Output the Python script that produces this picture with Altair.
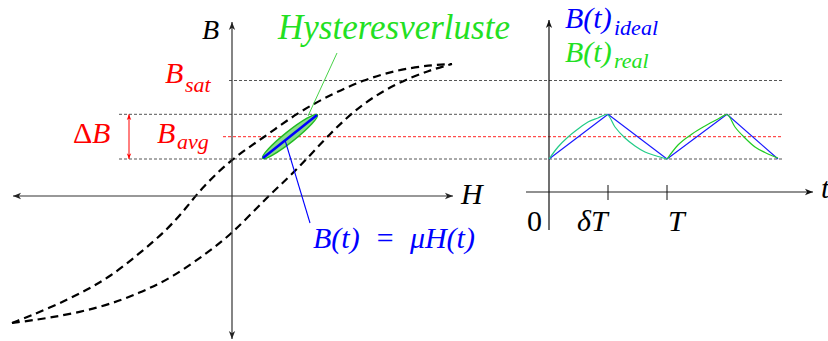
import altair as alt
import pandas as pd

W, H = 828, 341

# ---- hysteresis loop (diagram coordinates: x right, y down, pixels) ----
upper_x = [12, 50, 83, 110, 140, 167, 187, 200, 230, 263, 297, 330, 363, 397, 430, 452]
upper_y = [323, 308, 292, 277, 253, 230, 207, 190, 160, 138, 113, 95, 80, 70, 65, 64]
lower_x = [12, 50, 100, 140, 173, 207, 233, 267, 297, 330, 363, 397, 430, 452]
lower_y = [323, 318, 308, 293, 277, 253, 233, 197, 170, 133, 103, 83, 70, 64]

# ---- B levels (horizontal dashed guides) ----
lvl_y = [80.5, 114.3, 136.7, 159]
lvl_x1 = [229, 119, 223, 119]
lvl_x2 = [783, 783, 783, 783]
lvl_col = ["#555555", "#555555", "#ff2222", "#555555"]

# ---- right panel: ideal (triangle) and real B(t) ----
ideal_t = [549, 608, 667, 727, 778]
ideal_b = [159, 114.3, 159, 114.3, 159]
real1_t = [549, 558, 568, 578, 588, 598, 607, 615, 625, 635, 645, 655, 667]
real1_b = [159, 147, 137, 129, 122, 118, 114.5, 127, 138, 146, 152, 155.5, 159]
real2_t = [667, 678, 692, 705, 718, 727, 735, 745, 755, 765, 778]
real2_b = [159, 145, 134, 126, 119, 114.5, 127, 138, 147, 152.5, 158]

# ---- straight segments (axes, ticks, leaders) ----
seg_x1 = [13, 232, 526, 549, 608, 667, 337, 285, 129, 263]
seg_y1 = [196, 339, 192, 230, 185, 185, 53, 140, 114.3, 158]
seg_x2 = [453, 232, 813, 549, 608, 667, 308, 310, 129, 317]
seg_y2 = [196, 22, 192, 20, 200, 200, 116, 223, 159, 115]
seg_col = ["#333333", "#333333", "#222222", "#111111", "#111111", "#111111",
           "#33cc33", "#0000ff", "#ff0000", "#0000ff"]
seg_w = [1.2, 1.2, 1.2, 1.2, 1.0, 1.0, 0.9, 1.1, 1.0, 2.6]

# ---- arrow heads ----
arr_x = [13, 453, 232, 232, 813, 549, 129, 129]
arr_y = [196, 196, 22, 339, 192, 20, 114.3, 159]
arr_ang = [270, 90, 0, 180, 90, 0, 0, 180]
arr_col = ["#222222", "#222222", "#222222", "#222222", "#111111", "#111111", "#ff0000", "#ff0000"]
arr_size = [80, 80, 80, 80, 80, 80, 40, 40]

# ---- text labels (italic, math style) ----
lab_text = ["B", "Hysteresverluste", "B", "sat", "B", "B", "avg", "H",
            "B(t)\u2002=\u2002μH(t)", "B(t)", "ideal", "B(t)", "real", "t", "δT", "T"]
lab_x = [202, 278, 165, 185, 92, 157, 177, 461, 313, 565, 614, 565, 614, 821, 577, 668]
lab_y = [39, 39, 83, 92, 143, 143, 149, 204, 248, 28, 35, 62, 68, 198, 231, 231]
lab_size = [28, 35, 30, 22, 30, 30, 22, 30, 30, 30, 22, 30, 22, 30, 30, 30]
lab_col = ["#000000", "#22e022", "#ff0000", "#ff0000", "#ff0000", "#ff0000", "#ff0000",
           "#000000", "#0000ff", "#0000ff", "#0000ff", "#22e022", "#22e022", "#000000",
           "#000000", "#000000"]
# upright symbols
up_text = ["0", "Δ"]
up_x = [527, 73]
up_y = [231, 143]
up_col = ["#000000", "#ff0000"]

xs = alt.Scale(domain=[0, W])
ys = alt.Scale(domain=[H, 0])
X = lambda f="x": alt.X(f, type="quantitative", scale=xs, axis=None)
Y = lambda f="y": alt.Y(f, type="quantitative", scale=ys, axis=None)

levels = pd.DataFrame({"x": lvl_x1, "x2": lvl_x2, "y": lvl_y, "c": lvl_col})
lvl_layer = alt.Chart(levels).mark_rule(strokeDash=[3, 2], strokeWidth=1).encode(
    x=X(), x2="x2", y=Y(), color=alt.Color("c:N", scale=None))

loop = pd.DataFrame({
    "x": upper_x + lower_x, "y": upper_y + lower_y,
    "branch": ["up"] * len(upper_x) + ["low"] * len(lower_x),
    "i": list(range(len(upper_x))) + list(range(len(lower_x))),
})
loop_layer = alt.Chart(loop).mark_line(
    color="black", strokeWidth=2.2, strokeDash=[8, 5], interpolate="basis"
).encode(x=X(), y=Y(), detail="branch:N", order="i:Q")

segs = pd.DataFrame({"x": seg_x1, "y": seg_y1, "x2": seg_x2, "y2": seg_y2,
                     "c": seg_col, "w": seg_w})
seg_layer = alt.Chart(segs).mark_rule().encode(
    x=X(), y=Y(), x2="x2", y2="y2",
    color=alt.Color("c:N", scale=None), strokeWidth=alt.StrokeWidth("w:Q", scale=None))

ell = pd.DataFrame({"x": [290], "y": [136.5], "a": [321.5]})
ell_layer = alt.Chart(ell).mark_point(
    shape="M -1 0 A 1 0.15 0 1 1 1 0 A 1 0.15 0 1 1 -1 0 Z",
    filled=True, fill="#88dd88", fillOpacity=1, stroke="#22bb22", strokeWidth=1.4,
    size=4900,
).encode(x=X(), y=Y(), angle=alt.Angle("a:Q", scale=None))

ideal = pd.DataFrame({"x": ideal_t, "y": ideal_b})
ideal_layer = alt.Chart(ideal).mark_line(color="#1a1aff", strokeWidth=1.2).encode(x=X(), y=Y())

r1 = pd.DataFrame({"x": real1_t, "y": real1_b, "i": range(len(real1_t))})
r2 = pd.DataFrame({"x": real2_t, "y": real2_b, "i": range(len(real2_t))})
real1_layer = alt.Chart(r1).mark_line(color="#22cc88", strokeWidth=1.2, interpolate="monotone").encode(
    x=X(), y=Y(), order="i:Q")
real2_layer = alt.Chart(r2).mark_line(color="#22cc22", strokeWidth=1.2, interpolate="monotone").encode(
    x=X(), y=Y(), order="i:Q")

arrows = pd.DataFrame({"x": arr_x, "y": arr_y, "a": arr_ang, "c": arr_col, "s": arr_size})
arrow_layer = alt.Chart(arrows).mark_point(
    shape="M 0 0 L -0.7 1.8 L 0 1.3 L 0.7 1.8 Z", filled=True, opacity=1
).encode(x=X(), y=Y(), angle=alt.Angle("a:Q", scale=None),
         color=alt.Color("c:N", scale=None), size=alt.Size("s:Q", scale=None))

labels = pd.DataFrame({"t": lab_text, "x": lab_x, "y": lab_y, "s": lab_size, "c": lab_col})
label_layer = alt.Chart(labels).mark_text(
    font="Liberation Serif", fontStyle="italic", align="left", baseline="alphabetic"
).encode(x=X(), y=Y(), text="t:N", size=alt.Size("s:Q", scale=None),
         color=alt.Color("c:N", scale=None))

ups = pd.DataFrame({"t": up_text, "x": up_x, "y": up_y, "c": up_col})
up_layer = alt.Chart(ups).mark_text(
    font="Liberation Serif", fontSize=30, align="left", baseline="alphabetic"
).encode(x=X(), y=Y(), text="t:N", color=alt.Color("c:N", scale=None))

chart = alt.layer(
    lvl_layer, loop_layer, ell_layer, seg_layer, ideal_layer, real1_layer, real2_layer,
    arrow_layer, label_layer, up_layer
).properties(
    width=W, height=H, padding=0, autosize=alt.AutoSizeParams(type="none"),
    background="white"
).configure_view(stroke=None)

chart.save("out.html", embed_options={"renderer": "svg", "actions": False})
